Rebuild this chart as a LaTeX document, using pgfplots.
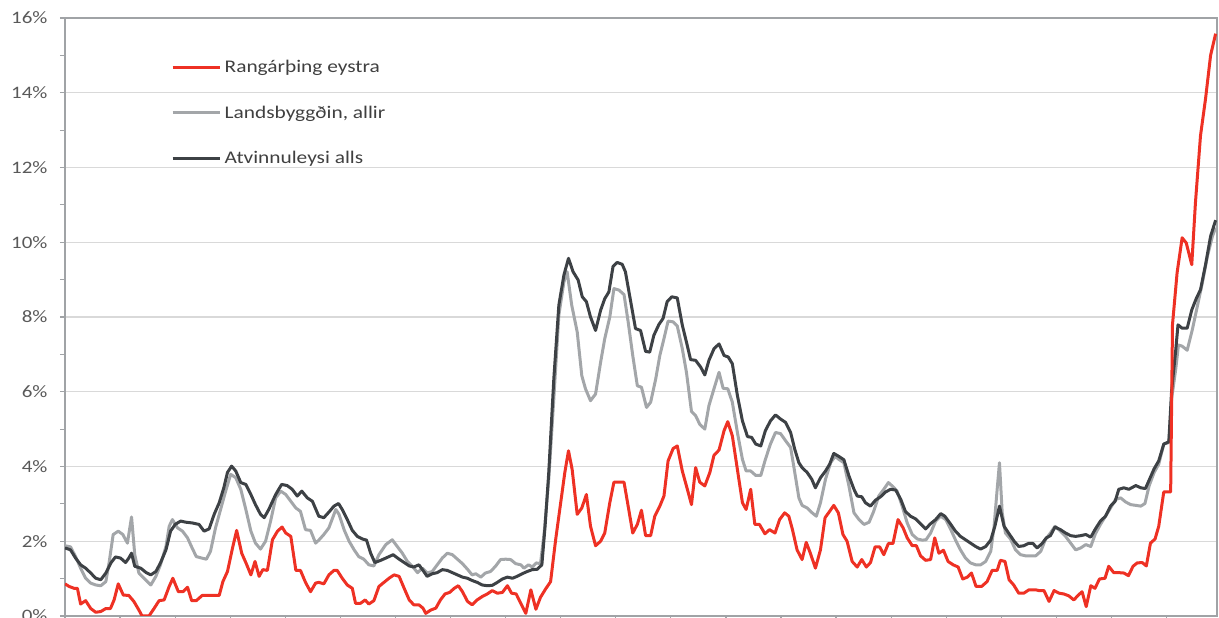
\documentclass[border=0pt]{standalone}
\usepackage{fontspec}
\setmainfont{Carlito}[FakeStretch=1.2]
\usepackage{pgfplots}
\pgfplotsset{compat=1.18}
\usepackage{pgfplotstable}
\definecolor{cRed}{HTML}{EE3124}
\definecolor{cGray}{HTML}{A3A6A9}
\definecolor{cDark}{HTML}{3D4145}
\definecolor{cGrid}{HTML}{D9D9D9}
\definecolor{cAxis}{HTML}{A0A3A6}
\definecolor{cTick}{HTML}{595959}
\definecolor{cLeg}{HTML}{404040}

% Rangarthing eystra
\pgfplotstableread{
x y
0 0.86
0.9 0.79
2.0 0.74
2.7 0.74
3.4 0.32
4.5 0.41
5.6 0.20
6.7 0.10
7.8 0.12
8.9 0.20
9.9 0.20
10.7 0.43
11.6 0.86
12.7 0.56
13.9 0.55
15.0 0.39
16.1 0.16
16.8 0.0
18.3 0.0
19.4 0.20
20.5 0.41
21.6 0.43
22.7 0.79
23.5 1.01
24.7 0.65
25.7 0.65
26.7 0.77
27.6 0.41
28.6 0.41
29.9 0.55
33.6 0.55
34.4 0.92
35.4 1.19
36.5 1.82
37.4 2.29
38.5 1.68
39.5 1.40
40.5 1.10
41.4 1.46
42.3 1.06
43.1 1.24
44.1 1.22
45.2 2.04
46.3 2.27
47.3 2.38
48.1 2.22
49.2 2.13
50.3 1.22
51.3 1.22
52.4 0.90
53.5 0.65
54.6 0.88
55.3 0.90
56.4 0.86
57.5 1.10
58.6 1.22
59.3 1.22
60.4 1.01
61.5 0.83
62.6 0.74
63.3 0.34
64.4 0.34
65.4 0.43
66.2 0.32
67.3 0.41
68.4 0.79
69.5 0.90
70.6 1.01
71.7 1.10
72.8 1.06
73.9 0.74
75.0 0.43
76.0 0.30
77.1 0.30
78.0 0.21
78.6 0.07
79.7 0.16
80.8 0.21
81.8 0.43
82.8 0.59
83.8 0.63
84.8 0.74
85.7 0.81
86.6 0.65
87.7 0.39
88.7 0.30
89.8 0.43
90.9 0.52
92.0 0.59
93.1 0.68
94.2 0.61
95.3 0.63
96.4 0.81
97.3 0.61
98.3 0.59
99.3 0.34
100.4 0.07
101.5 0.70
102.6 0.18
103.6 0.50
104.7 0.72
105.8 0.92
106.9 2.04
108.0 3.03
108.9 3.84
109.7 4.42
110.5 3.92
111.6 2.72
112.6 2.89
113.6 3.25
114.5 2.40
115.6 1.88
116.7 2.00
117.6 2.22
118.7 3.03
119.6 3.58
120.7 3.58
121.8 3.58
122.7 2.94
123.7 2.22
124.7 2.45
125.6 2.83
126.5 2.15
127.6 2.15
128.5 2.67
129.6 2.94
130.5 3.21
131.4 4.15
132.5 4.48
133.4 4.55
134.5 3.88
135.6 3.39
136.5 2.98
137.4 3.97
138.3 3.58
139.4 3.48
140.5 3.84
141.4 4.30
142.5 4.44
143.6 4.96
144.4 5.20
145.4 4.82
146.5 3.92
147.6 3.03
148.4 2.85
149.4 3.39
150.3 2.45
151.3 2.45
152.5 2.20
153.5 2.31
154.7 2.22
155.7 2.58
156.8 2.76
157.7 2.67
158.5 2.31
159.5 1.77
160.6 1.51
161.5 1.97
162.4 1.68
163.5 1.28
164.6 1.77
165.6 2.63
166.6 2.80
167.5 2.96
168.5 2.76
169.5 2.18
170.4 2.00
171.5 1.46
172.6 1.31
173.6 1.51
174.6 1.31
175.5 1.43
176.5 1.85
177.5 1.85
178.4 1.64
179.4 1.94
180.4 1.94
181.5 2.58
182.6 2.36
183.5 2.09
184.6 1.88
185.5 1.88
186.4 1.61
187.5 1.49
188.6 1.51
189.5 2.09
190.4 1.68
191.4 1.76
192.4 1.46
193.5 1.37
194.6 1.31
195.6 0.99
196.6 1.04
197.5 1.15
198.5 0.79
199.7 0.79
200.9 0.92
202.0 1.22
203.1 1.22
203.8 1.49
204.8 1.46
205.7 0.97
206.7 0.83
207.8 0.61
208.9 0.61
210.0 0.70
211.5 0.70
212.2 0.68
213.3 0.68
214.4 0.39
215.5 0.68
216.6 0.61
217.6 0.59
218.7 0.54
219.8 0.43
220.8 0.56
221.6 0.65
222.5 0.25
223.5 0.81
224.4 0.74
225.4 0.99
226.6 1.01
227.4 1.33
228.5 1.16
229.6 1.16
230.7 1.15
231.7 1.08
232.7 1.33
233.6 1.42
234.7 1.43
235.6 1.34
236.5 1.95
237.5 2.06
238.3 2.40
239.4 3.32
240.9 3.32
241.3 7.80
242.3 9.18
243.4 10.12
244.3 9.98
245.5 9.40
246.3 11.06
247.4 12.85
248.5 13.84
249.6 15.00
250.7 15.58
}\redtab

% Landsbyggdin, allir
\pgfplotstableread{
x y
0 1.88
1.2 1.85
2.3 1.59
3.4 1.28
4.5 1.01
5.6 0.88
6.7 0.83
7.8 0.81
8.9 0.92
9.6 1.42
10.5 2.18
11.6 2.27
12.6 2.18
13.6 1.95
14.5 2.65
15.2 1.64
16.1 1.15
17.2 1.01
18.7 0.83
19.8 1.06
20.8 1.37
22.0 1.86
22.7 2.40
23.4 2.58
24.5 2.36
25.6 2.27
26.7 2.09
27.7 1.82
28.6 1.59
29.8 1.55
30.8 1.52
31.7 1.73
32.8 2.36
33.9 2.85
35.0 3.34
36.1 3.79
37.2 3.70
38.3 3.39
39.4 2.85
40.5 2.27
41.5 1.95
42.6 1.79
43.7 2.00
44.8 2.54
45.9 3.16
47.0 3.34
48.1 3.25
49.2 3.07
50.3 2.89
51.3 2.80
52.4 2.31
53.5 2.29
54.6 1.95
55.3 2.03
56.4 2.18
57.5 2.36
59.0 2.85
59.7 2.72
60.8 2.31
61.9 2.00
63.0 1.77
64.0 1.59
65.1 1.52
66.2 1.37
67.3 1.34
68.4 1.64
69.9 1.91
71.3 2.04
72.4 1.86
73.5 1.68
74.6 1.46
75.7 1.33
76.8 1.16
77.9 1.28
78.9 1.15
80.0 1.19
81.1 1.37
82.2 1.55
83.3 1.68
84.4 1.64
85.5 1.52
86.6 1.40
87.7 1.25
88.7 1.10
89.5 1.13
90.6 1.04
91.6 1.15
92.7 1.19
93.8 1.33
94.9 1.51
96.0 1.52
97.1 1.51
98.2 1.40
99.3 1.37
100.0 1.28
101.0 1.37
101.8 1.31
102.7 1.42
103.6 1.40
104.4 2.22
105.4 3.66
106.5 5.81
107.6 8.05
108.7 8.94
109.4 9.21
110.4 8.32
111.6 7.60
112.6 6.43
113.4 6.08
114.5 5.76
115.6 5.94
116.7 6.79
117.6 7.42
118.7 8.00
119.6 8.76
120.7 8.72
121.8 8.60
122.7 7.87
123.7 6.97
124.7 6.16
125.6 6.12
126.7 5.58
127.6 5.72
128.7 6.34
129.6 6.97
130.5 7.42
131.4 7.89
132.5 7.87
133.4 7.76
134.5 7.15
135.4 6.52
136.5 5.47
137.4 5.36
138.3 5.13
139.4 5.00
140.3 5.63
141.4 6.08
142.5 6.52
143.4 6.09
144.4 6.08
145.4 5.72
146.5 4.91
147.6 4.19
148.4 3.88
149.4 3.88
150.5 3.76
151.6 3.76
152.6 4.19
153.7 4.60
154.8 4.91
155.9 4.88
157.0 4.69
158.1 4.51
159.0 3.84
159.9 3.16
160.6 2.96
161.7 2.89
162.8 2.76
163.7 2.67
164.6 3.03
165.7 3.66
166.8 4.10
167.8 4.27
168.6 4.19
169.7 4.10
170.8 3.48
171.9 2.76
173.0 2.58
174.1 2.45
175.2 2.51
176.2 2.80
177.3 3.21
178.4 3.39
179.4 3.57
180.4 3.46
181.3 3.34
182.4 2.94
183.5 2.49
184.6 2.18
185.7 2.06
186.8 2.03
187.6 2.04
188.6 2.22
189.7 2.54
190.8 2.67
191.9 2.58
193.0 2.31
194.0 2.04
195.1 1.77
196.2 1.55
197.3 1.42
198.4 1.37
199.5 1.37
200.6 1.46
201.7 1.73
202.4 2.36
203.1 3.39
203.6 4.10
204.2 2.76
204.9 2.22
206.0 2.06
207.1 1.77
208.2 1.64
209.3 1.61
211.5 1.61
212.6 1.73
213.6 2.04
214.7 2.22
215.7 2.40
216.9 2.27
218.0 2.13
219.1 1.95
220.2 1.77
221.3 1.82
222.4 1.91
223.5 1.86
224.5 2.20
225.6 2.45
226.7 2.67
227.8 2.89
228.9 3.12
230.0 3.16
231.1 3.05
232.2 2.98
233.3 2.96
234.4 2.94
235.3 3.01
236.2 3.48
237.3 3.84
238.3 4.06
239.4 4.60
240.5 4.64
241.1 5.80
242.0 6.60
242.6 7.25
243.4 7.22
244.5 7.11
245.6 7.65
246.7 8.28
247.8 8.91
248.9 9.62
250.0 10.16
250.7 10.39
}\graytab

% Atvinnuleysi alls
\pgfplotstableread{
x y
0 1.82
1.2 1.77
2.3 1.55
3.4 1.37
4.5 1.28
5.6 1.15
6.7 1.01
7.8 0.97
8.9 1.15
10.0 1.42
11.0 1.58
12.1 1.55
13.2 1.43
13.9 1.55
14.5 1.68
15.2 1.33
16.5 1.28
17.7 1.16
18.7 1.10
19.8 1.19
20.8 1.42
22.0 1.77
23.0 2.27
24.0 2.45
25.2 2.54
26.3 2.51
27.7 2.49
29.2 2.45
30.3 2.27
31.4 2.33
32.5 2.72
33.6 3.03
34.6 3.43
35.4 3.84
36.3 4.01
37.2 3.88
38.3 3.57
39.4 3.52
40.5 3.25
41.5 2.98
42.6 2.72
43.4 2.63
44.4 2.85
45.9 3.25
47.2 3.52
48.4 3.49
49.5 3.39
50.6 3.21
51.6 3.34
52.8 3.16
53.9 3.07
55.3 2.67
56.4 2.63
57.5 2.78
58.6 2.94
59.6 3.01
60.4 2.85
61.5 2.58
62.6 2.29
63.7 2.13
64.8 2.06
65.7 2.03
66.6 1.68
67.5 1.43
68.8 1.49
69.9 1.55
71.5 1.64
72.8 1.52
73.9 1.43
75.0 1.34
76.0 1.31
77.1 1.37
78.0 1.22
78.9 1.06
80.0 1.13
81.1 1.16
82.2 1.24
83.3 1.22
84.4 1.16
85.5 1.10
86.6 1.04
87.7 1.01
88.7 0.95
89.8 0.90
90.9 0.83
92.0 0.81
93.1 0.82
94.2 0.90
95.3 0.99
96.4 1.04
97.5 1.01
98.5 1.06
99.6 1.13
100.7 1.19
101.8 1.24
102.9 1.25
103.9 1.37
104.6 2.40
105.4 3.84
106.5 6.34
107.6 8.32
108.7 9.12
109.7 9.57
110.7 9.21
111.8 8.99
112.7 8.54
113.6 8.41
114.5 8.00
115.6 7.64
116.7 8.18
117.6 8.49
118.5 8.67
119.4 9.35
120.3 9.46
121.4 9.41
122.1 9.21
123.2 8.45
124.3 7.69
125.4 7.64
126.5 7.08
127.4 7.06
128.3 7.51
129.4 7.80
130.3 7.96
131.2 8.41
132.2 8.54
133.4 8.51
134.5 7.78
135.4 7.33
136.3 6.86
137.4 6.84
138.5 6.66
139.4 6.45
140.3 6.84
141.4 7.15
142.5 7.28
143.6 6.97
144.5 6.93
145.4 6.75
146.5 5.90
147.6 5.22
148.7 4.80
149.6 4.78
150.5 4.60
151.6 4.55
152.6 4.96
153.7 5.22
154.8 5.38
155.9 5.27
157.0 5.18
158.1 4.91
159.0 4.46
159.9 4.10
160.6 3.97
161.7 3.84
162.7 3.66
163.5 3.43
164.6 3.70
165.7 3.88
166.6 4.06
167.5 4.35
168.6 4.27
169.7 4.18
170.8 3.75
171.9 3.39
172.6 3.21
173.6 3.19
174.4 3.03
175.5 2.94
176.6 3.10
177.7 3.19
178.8 3.32
179.9 3.39
181.0 3.37
182.1 3.12
183.1 2.80
184.2 2.67
185.3 2.60
186.4 2.47
187.5 2.33
188.6 2.47
189.7 2.58
190.8 2.74
191.7 2.67
193.0 2.45
194.0 2.27
195.1 2.13
196.2 2.04
197.3 1.95
198.4 1.86
199.5 1.79
200.6 1.86
201.7 2.03
202.6 2.40
203.6 2.94
204.6 2.40
205.7 2.20
206.8 2.00
207.8 1.86
208.9 1.88
209.9 1.94
210.9 1.94
211.8 1.82
212.9 1.94
213.8 2.09
214.7 2.15
215.7 2.38
216.9 2.31
218.0 2.22
219.1 2.15
220.2 2.13
221.3 2.15
222.4 2.18
223.5 2.11
224.5 2.33
225.6 2.54
226.7 2.67
227.8 2.94
228.8 3.07
229.6 3.39
230.7 3.43
231.8 3.39
233.3 3.49
234.4 3.43
235.4 3.41
236.3 3.66
237.3 3.94
238.3 4.15
239.4 4.60
240.5 4.66
241.1 6.02
242.0 7.11
242.5 7.79
243.4 7.70
244.5 7.70
245.5 8.19
246.5 8.50
247.4 8.73
248.5 9.40
249.6 10.16
250.7 10.59
}\darktab

\begin{document}
\begin{tikzpicture}
\begin{axis}[
  scale only axis, width=1152pt, height=598pt,
  xmin=0, xmax=251, ymin=0, ymax=16,
  axis line style={cAxis, line width=1.2pt},
  tick pos=left, tick align=outside,
  xtick={0,12,...,240}, xticklabels={},
  ytick={0,2,...,16}, minor ytick={1,3,...,15},
  major tick length=5pt, minor tick length=5pt,
  every tick/.style={cAxis, line width=1.2pt},
  every minor tick/.style={cAxis, line width=1.2pt},
  ymajorgrids, grid style={cGrid, line width=1.2pt},
  yticklabel={\pgfmathprintnumber{\tick}\%},
  /pgf/number format/assume math mode=true,
  yticklabel style={font=\fontsize{17.5}{20}\selectfont, text=cTick, xshift=-9pt},
  legend cell align=left,
  legend style={at={(0.092,0.935)}, anchor=north west, draw=none, fill=none,
    font=\fontsize{17.8}{20}\selectfont, text=cLeg, row sep=24.5pt, inner sep=0pt,
    nodes={inner sep=3.5pt}},
  legend image code/.code={\draw[#1] (0pt,0pt) -- (47pt,0pt);},
  every axis plot/.append style={line width=3pt, line join=round},
]
\addlegendimage{cRed, line width=3pt}
\addlegendentry{Rangárþing eystra}
\addlegendimage{cGray, line width=3pt}
\addlegendentry{Landsbyggðin, allir}
\addlegendimage{cDark, line width=3pt}
\addlegendentry{Atvinnuleysi alls}
\addplot[cGray, forget plot] table[x=x,y=y] {\graytab};
\addplot[cDark, forget plot] table[x=x,y=y] {\darktab};
\addplot[cRed, forget plot] table[x=x,y=y] {\redtab};
\end{axis}
\pgfresetboundingbox
\path[use as bounding box] (-65pt,-2pt) rectangle (1154pt,616pt);
\end{tikzpicture}
\end{document}
